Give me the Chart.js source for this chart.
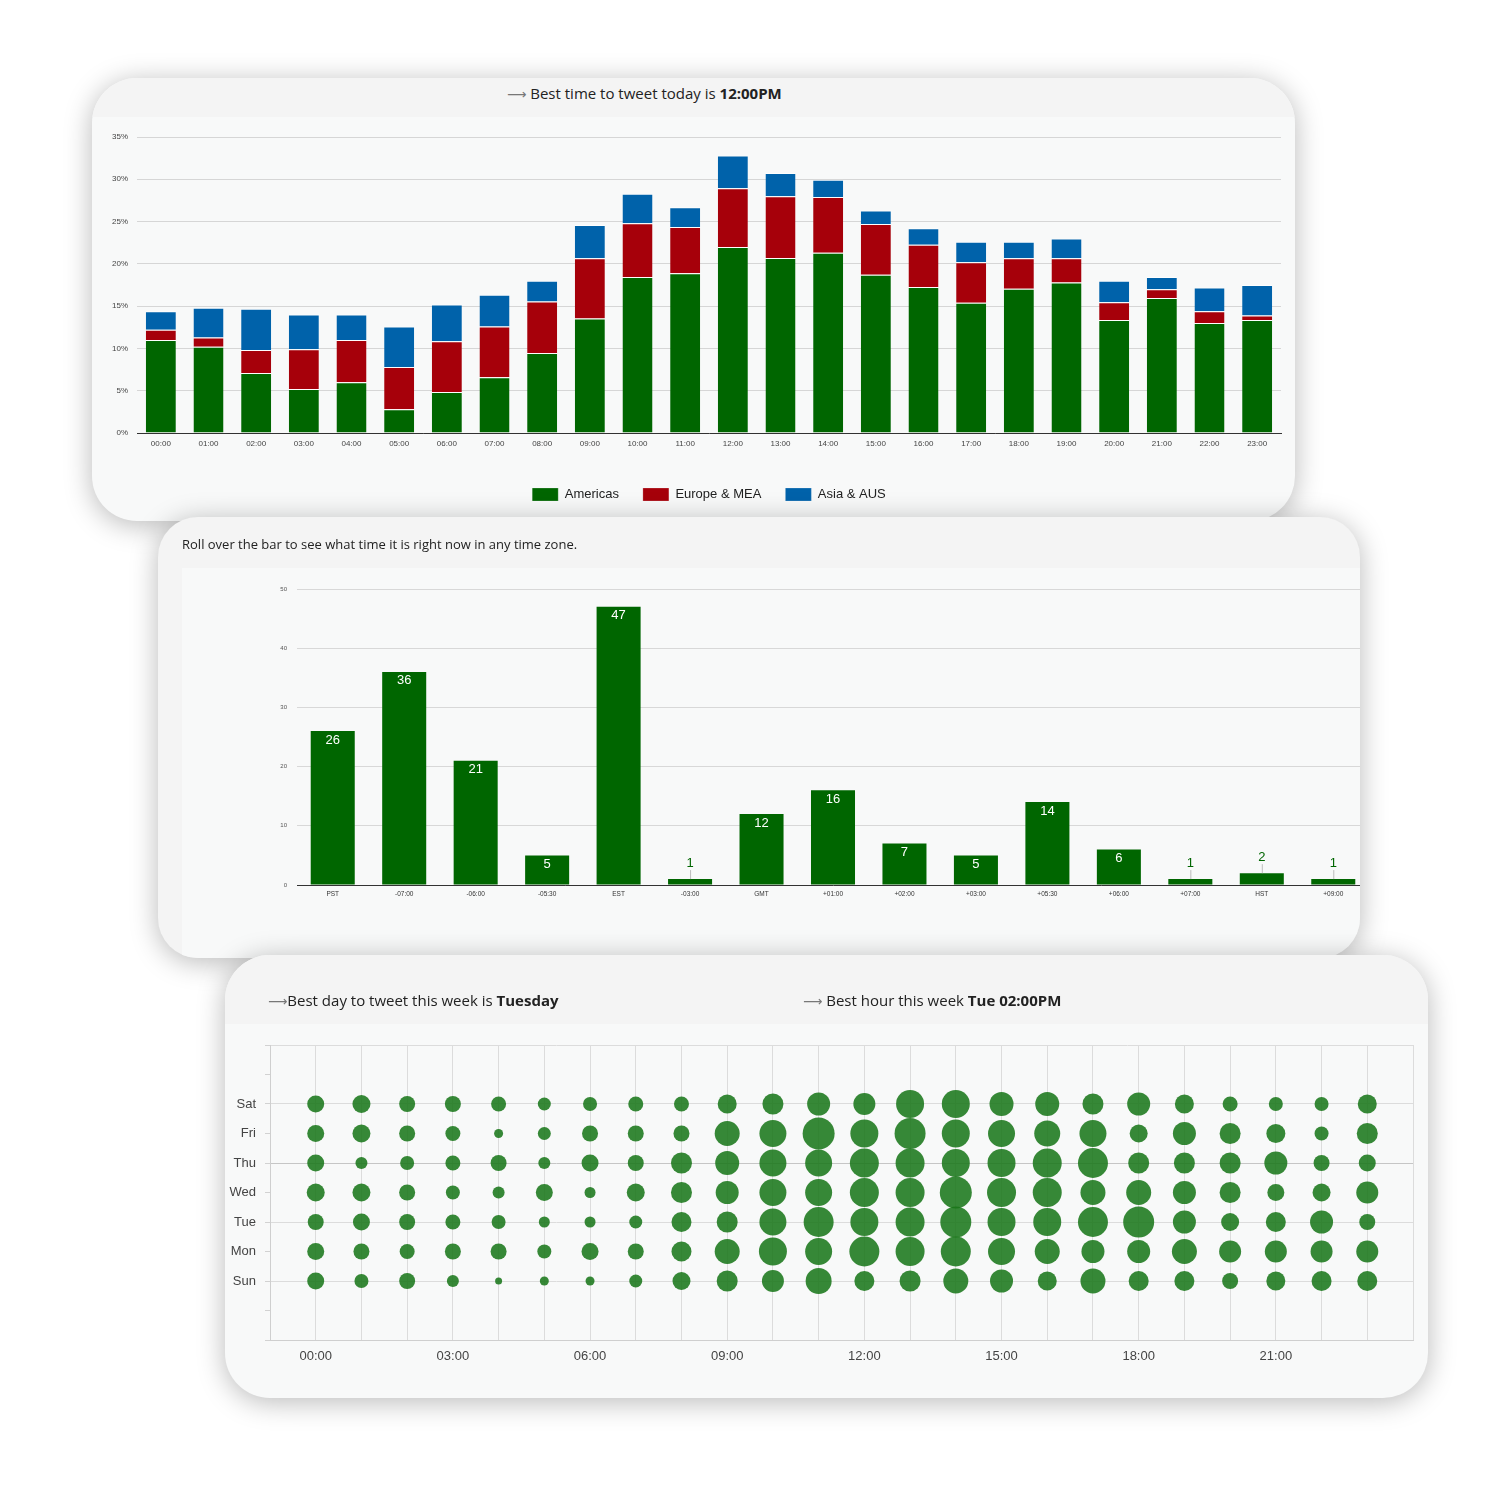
<!DOCTYPE html>
<html>
<head>
<meta charset="utf-8">
<script src="https://cdn.jsdelivr.net/npm/chart.js@4.4.0/dist/chart.umd.min.js"></script>
<style>
  html, body { margin: 0; padding: 0; background: #ffffff; }
  body { width: 1500px; height: 1500px; position: relative; overflow: hidden; font-family: "Open Sans", sans-serif; color: #222; }
  .card { position: absolute; border-radius: 45px; overflow: hidden; box-shadow: 0 4px 28px rgba(0,0,0,0.28); background: #f8f9f9; }
  .head { position: absolute; left: 0; top: 0; right: 0; background: #f4f4f4; }
  .txt { position: absolute; white-space: nowrap; }
  .arrow { color: #777; font-family: "DejaVu Sans", sans-serif; font-size: 0.9em; }
  .box { position: absolute; }
  #card1 { left: 92px; top: 78px; width: 1203px; height: 443px; z-index: 1; }
  #card2 { left: 158px; top: 517px; width: 1202px; height: 441px; z-index: 2; background: #f4f4f4; border-radius: 40px; }
  #card3 { left: 225px; top: 955px; width: 1203px; height: 443px; z-index: 3; }
</style>
</head>
<body>

<div class="card" id="card1">
  <div class="head" style="height:39px;"></div>
  <div class="txt" style="left:415px; top:5px; font-size:15px;"><span class="arrow">⟶</span> Best time to tweet today is <b>12:00PM</b></div>
  <div class="box" style="left:3px; top:42px; width:1195px; height:395px;"><canvas id="hourChart"></canvas></div>
</div>

<div class="card" id="card2">
  <div class="txt" style="left:24px; top:18px; font-size:13px;">Roll over the bar to see what time it is right now in any time zone.</div>
  <div class="box" style="left:24px; top:51px; width:1200px; height:390px; background:#f8f9f9;"><canvas id="zoneChart"></canvas></div>
</div>

<div class="card" id="card3">
  <div class="head" style="height:69px;"></div>
  <div class="txt" style="left:43px; top:35px; font-size:15px;"><span class="arrow">⟶</span>Best day to tweet this week is <b>Tuesday</b></div>
  <div class="txt" style="left:578px; top:35px; font-size:15px;"><span class="arrow">⟶</span> Best hour this week <b>Tue 02:00PM</b></div>
  <div class="box" style="left:3px; top:69px; width:1201px; height:370px;"><canvas id="weekChart"></canvas></div>
</div>

<script>
// Etiquetas comunes
const hourLabels = ['00:00','01:00','02:00','03:00','04:00','05:00','06:00','07:00','08:00','09:00','10:00','11:00',
                    '12:00','13:00','14:00','15:00','16:00','17:00','18:00','19:00','20:00','21:00','22:00','23:00'];

// Grafico 1: porcentaje por hora y region
const americas  = [11.0,10.2,7.1,5.2,6.0,2.8,4.85,6.6,9.45,13.55,18.45,18.9,22.0,20.7,21.3,18.7,17.25,15.4,17.05,17.8,13.35,15.95,13.0,13.35];
const europeMea = [1.2,1.1,2.7,4.7,5.0,5.0,6.0,6.0,6.1,7.1,6.35,5.45,6.95,7.3,6.6,6.0,5.0,4.8,3.6,2.85,2.1,1.05,1.4,0.55];
const asiaAus   = [2.2,3.5,4.9,4.1,3.0,4.8,4.35,3.75,2.45,3.95,3.5,2.35,3.85,2.75,2.05,1.6,1.95,2.4,1.95,2.35,2.55,1.45,2.8,3.6];
const pctTicks  = [0,5,10,15,20,25,30,35];

// Grafico 2: seguidores por zona horaria
const zoneLabels = ['PST','-07:00','-06:00','-05:30','EST','-03:00','GMT','+01:00','+02:00','+03:00','+05:30','+06:00','+07:00','HST','+09:00'];
const zoneCounts = [26,36,21,5,47,1,12,16,7,5,14,6,1,2,1];

// Grafico 3: actividad por dia y hora
const dayLabels = ['Sun','Mon','Tue','Wed','Thu','Fri','Sat'];
const sunActivity = [17,14,16,12,7,9,9,13,18,21,22,26,20,21,25,23,19,25,20,20,16,19,20,20];
const monActivity = [17,16,15,16,16,14,17,16,20,25,28,27,30,29,30,27,25,23,23,25,22,22,22,22];
const tueActivity = [16,17,16,15,14,11,11,13,20,21,27,30,28,29,31,28,28,30,31,23,18,20,23,16];
const wedActivity = [18,18,16,14,12,17,11,18,21,23,27,27,29,29,32,29,29,25,25,23,21,17,18,22];
const thuActivity = [17,12,14,15,16,12,17,16,21,24,27,27,29,29,28,28,29,30,21,21,21,23,16,17];
const friActivity = [17,18,16,15,9,13,16,16,16,25,27,32,28,31,28,27,26,27,18,23,21,19,14,21];
const satActivity = [17,18,16,16,15,13,14,15,15,19,21,23,22,28,28,24,24,21,23,19,15,14,14,19];

Chart.defaults.font.family = "Arial, 'Liberation Sans', sans-serif";
Chart.defaults.color = '#444';
Chart.defaults.animation = false;

const green = '#006600';
const red = '#a6000a';
const blue = '#0062aa';

// ---------- Grafico 1 ----------
new Chart(document.getElementById('hourChart'), {
    type: 'bar',
    data: {
        labels: hourLabels,
        datasets: [
            { label: 'Americas', data: americas, backgroundColor: green },
            { label: 'Europe & MEA', data: europeMea, backgroundColor: red },
            { label: 'Asia & AUS', data: asiaAus, backgroundColor: blue }
        ].map(ds => Object.assign(ds, {
            borderColor: 'rgba(255,255,255,0.85)',
            borderWidth: { top: 1, left: 0, right: 0, bottom: 0 },
            borderSkipped: false,
            barPercentage: 0.63,
            categoryPercentage: 1
        }))
    },
    options: {
        responsive: true,
        maintainAspectRatio: false,
        layout: { padding: { top: 17, right: 9, bottom: 4, left: 0 } },
        scales: {
            x: {
                stacked: true,
                grid: { display: false, drawTicks: false },
                border: { color: '#333', width: 1 },
                ticks: { font: { size: 8 }, color: '#444', padding: 6, maxRotation: 0, autoSkip: false },
                afterFit: function(axis) { axis.height = 31; }
            },
            y: {
                stacked: true,
                min: 0,
                max: 35,
                afterBuildTicks: function(axis) { axis.ticks = pctTicks.map(v => ({ value: v })); },
                grid: { color: '#d6d6d6', drawTicks: false },
                border: { display: false },
                ticks: {
                    font: { size: 8 }, color: '#444', padding: 9,
                    callback: function(value) { return value + '%'; }
                },
                afterFit: function(axis) { axis.width = 42; }
            }
        },
        plugins: {
            legend: {
                position: 'bottom',
                fullSize: false,
                labels: { boxWidth: 26, boxHeight: 13, padding: 24, color: '#222', font: { size: 13 } }
            },
            tooltip: { enabled: false }
        }
    }
});

// ---------- Grafico 2 ----------
const zoneLabelPlugin = {
    id: 'zoneLabels',
    afterDatasetsDraw(chart) {
        const ctx = chart.ctx;
        const meta = chart.getDatasetMeta(0);
        ctx.save();
        ctx.font = "13px Arial, 'Liberation Sans', sans-serif";
        ctx.textAlign = 'center';
        ctx.textBaseline = 'middle';
        meta.data.forEach((bar, i) => {
            const v = zoneCounts[i];
            if (v >= 5) {
                ctx.fillStyle = '#ffffff';
                ctx.fillText(String(v), bar.x, bar.y + 9);
            } else {
                ctx.strokeStyle = '#bdbdbd';
                ctx.lineWidth = 1;
                ctx.beginPath();
                ctx.moveTo(bar.x + 0.5, bar.y - 16 + 7);
                ctx.lineTo(bar.x + 0.5, bar.y);
                ctx.stroke();
                ctx.fillStyle = green;
                ctx.fillText(String(v), bar.x, bar.y - 16);
            }
        });
        ctx.restore();
    }
};

new Chart(document.getElementById('zoneChart'), {
    type: 'bar',
    data: {
        labels: zoneLabels,
        datasets: [{
            label: 'Followers',
            data: zoneCounts,
            backgroundColor: green,
            barPercentage: 0.616,
            categoryPercentage: 1
        }]
    },
    options: {
        responsive: true,
        maintainAspectRatio: false,
        layout: { padding: { top: 21, right: 13, bottom: 0, left: 0 } },
        scales: {
            x: {
                grid: { display: false, drawTicks: false },
                border: { color: '#333', width: 1 },
                ticks: { font: { size: 6.5 }, color: '#333', padding: 5, maxRotation: 0, autoSkip: false },
                afterFit: function(axis) { axis.height = 73; }
            },
            y: {
                min: 0,
                max: 50,
                ticks: { stepSize: 10, font: { size: 6 }, color: '#555', padding: 10 },
                grid: { color: '#d8d8d8', drawTicks: false },
                border: { display: false },
                afterFit: function(axis) { axis.width = 115; }
            }
        },
        plugins: { legend: { display: false }, tooltip: { enabled: false } }
    },
    plugins: [zoneLabelPlugin]
});

// ---------- Grafico 3 ----------
const weekRows = [sunActivity, monActivity, tueActivity, wedActivity, thuActivity, friActivity, satActivity];
const bubblePoints = [];
weekRows.forEach((row, d) => {
    row.forEach((size, h) => {
        bubblePoints.push({ x: h, y: d, r: size / 2 });
    });
});

new Chart(document.getElementById('weekChart'), {
    type: 'bubble',
    data: {
        datasets: [{
            label: 'Activity',
            data: bubblePoints,
            backgroundColor: 'rgba(25,118,25,0.87)',
            borderWidth: 0
        }]
    },
    options: {
        responsive: true,
        maintainAspectRatio: false,
        layout: { padding: { top: 21, right: 4, bottom: 0, left: 0 } },
        scales: {
            x: {
                type: 'linear',
                min: -1,
                max: 24,
                ticks: {
                    stepSize: 1, autoSkip: false, maxRotation: 0, padding: 9,
                    font: { size: 13 }, color: '#444',
                    callback: function(v) { return (v >= 0 && v <= 21 && v % 3 === 0) ? hourLabels[v] : ''; }
                },
                grid: { color: '#dcdcdc', drawTicks: false },
                border: { color: '#cfcfcf' },
                afterFit: function(axis) { axis.height = 54; }
            },
            y: {
                type: 'linear',
                min: -2,
                max: 8,
                ticks: {
                    stepSize: 1, autoSkip: false, padding: 9,
                    font: { size: 13 }, color: '#444',
                    callback: function(v) { return dayLabels[v] || ''; }
                },
                grid: {
                    color: function(c) {
                        const v = c.tick ? c.tick.value : 0;
                        if (v === 4) return '#c6c6c6';
                        return v % 2 === 0 ? '#dcdcdc' : 'rgba(0,0,0,0)';
                    },
                    tickColor: '#d2d2d2',
                    tickLength: 5
                },
                border: { color: '#cfcfcf' },
                afterFit: function(axis) { axis.width = 42; }
            }
        },
        plugins: { legend: { display: false }, tooltip: { enabled: false } }
    }
});
</script>
</body>
</html>
